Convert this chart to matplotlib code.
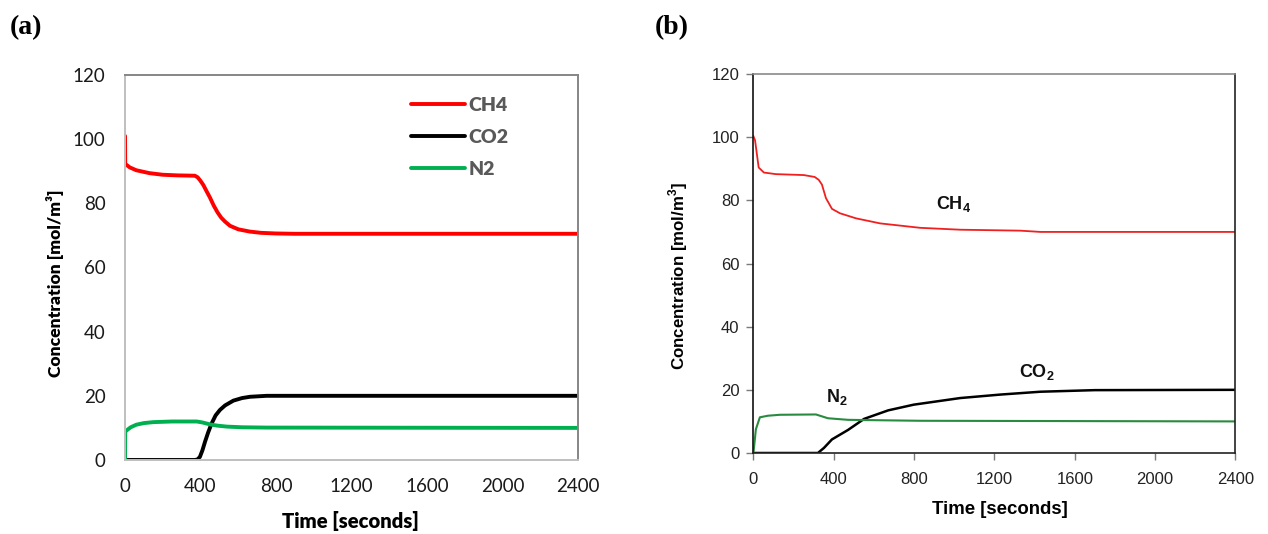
import matplotlib
matplotlib.use("Agg")
import matplotlib.pyplot as plt

# ---- simulated model (panel a) ----
t_ch4_a = [0, 1, 25, 60, 130, 200, 280, 370, 385, 400, 415, 430, 450, 470, 490, 510,
           530, 556, 600, 660, 720, 800, 900, 2400]
c_ch4_a = [101.0, 92.3, 91.2, 90.3, 89.4, 88.9, 88.7, 88.6, 88.1, 87.0, 85.7, 84.0,
           81.8, 79.3, 77.2, 75.5, 74.3, 73.0, 71.9, 71.2, 70.8, 70.6, 70.5, 70.5]

t_co2_a = [0, 370, 385, 397, 410, 424, 440, 459, 480, 503, 530, 574, 620, 662, 750, 2400]
c_co2_a = [0.0, 0.0, 0.2, 1.0, 3.0, 5.7, 8.5, 11.4, 13.9, 15.6, 17.0, 18.5, 19.3, 19.7,
           20.0, 20.0]

t_n2_a = [0, 1, 10, 30, 60, 100, 150, 250, 380, 410, 450, 490, 540, 620, 750, 2400]
c_n2_a = [0.0, 8.8, 9.3, 10.2, 11.0, 11.5, 11.8, 12.0, 12.0, 11.7, 11.1, 10.7, 10.4,
          10.2, 10.1, 10.0]

# ---- reference data (panel b) ----
t_ch4_b = [0, 8, 26, 52, 112, 251, 305, 325, 341, 361, 391, 431, 511, 631, 830, 1030,
           1329, 1429, 2400]
c_ch4_b = [100.3, 99.0, 90.4, 88.8, 88.3, 88.0, 87.4, 86.5, 85.0, 80.7, 77.3, 75.9,
           74.3, 72.7, 71.3, 70.7, 70.4, 70.0, 70.0]

t_co2_b = [0, 321, 351, 391, 471, 551, 671, 798, 1030, 1230, 1429, 1699, 2400]
c_co2_b = [0.0, 0.0, 1.6, 4.3, 7.3, 10.8, 13.5, 15.3, 17.4, 18.5, 19.4, 19.9, 20.0]

t_n2_b = [0, 12, 32, 72, 132, 311, 371, 471, 830, 2400]
c_n2_b = [0.0, 7.5, 11.3, 11.8, 12.1, 12.2, 11.0, 10.5, 10.2, 10.0]

x_ticks = [0, 400, 800, 1200, 1600, 2000, 2400]
y_ticks = [0, 20, 40, 60, 80, 100, 120]
species_a = ["CH4", "CO2", "N2"]
species_b = ["CH$_\\mathbf{4}$", "CO$_\\mathbf{2}$", "N$_\\mathbf{2}$"]
label_pos_b = [(998, 78.8), (1410, 25.7), (414, 17.8)]

plt.rcParams["mathtext.fontset"] = "custom"
plt.rcParams["mathtext.rm"] = "Liberation Sans"
plt.rcParams["mathtext.bf"] = "Liberation Sans:bold"

fig = plt.figure(figsize=(12.68, 5.34), dpi=100)

# ---------------- panel (a) ----------------
ax1 = fig.add_axes([0.0986, 0.1386, 0.3572, 0.7210])
ax1.plot(t_ch4_a, c_ch4_a, color="#ff0000", lw=2.8, label=species_a[0],
         solid_capstyle="round", solid_joinstyle="round")
ax1.plot(t_co2_a, c_co2_a, color="#000000", lw=2.8, label=species_a[1],
         solid_capstyle="round", solid_joinstyle="round")
ax1.plot(t_n2_a, c_n2_a, color="#00b050", lw=2.8, label=species_a[2],
         solid_capstyle="round", solid_joinstyle="round")
ax1.set_xlim(0, 2400)
ax1.set_ylim(0, 120)
ax1.set_xticks(x_ticks)
ax1.set_yticks(y_ticks)
ax1.tick_params(length=0, labelsize=13.5, colors="#1a1a1a")
ax1.tick_params(axis="y", pad=14)
ax1.tick_params(axis="x", pad=13)
for lab in ax1.get_xticklabels() + ax1.get_yticklabels():
    lab.set_family("Lato")
ax1.spines["left"].set_color("#bfbfbf")
ax1.spines["bottom"].set_color("#bfbfbf")
ax1.spines["top"].set_color("#868686")
ax1.spines["right"].set_color("#868686")
for s in ax1.spines.values():
    s.set_linewidth(1.4)
ax1.set_xlabel("Time [seconds]", family="Lato", weight="heavy", fontsize=14.6)
ax1.set_ylabel("Concentration [mol/m³]", family="Lato", weight="heavy", fontsize=12.6)
ax1.xaxis.set_label_coords(0.497, -0.158)
ax1.xaxis.label.set_va("center")
ax1.yaxis.set_label_coords(-0.155, 0.46)
ax1.yaxis.label.set_va("center")
leg = ax1.legend(loc="upper left", bbox_to_anchor=(0.631, 0.944), frameon=False,
                 borderpad=0, borderaxespad=0, handlelength=2.78, handletextpad=0.2,
                 labelspacing=0.78, prop={"family": "Lato", "weight": "heavy", "size": 14})
for txt in leg.get_texts():
    txt.set_color("#595959")

# ---------------- panel (b) ----------------
ax2 = fig.add_axes([0.5942, 0.1517, 0.3801, 0.7097])
ax2.plot(t_ch4_b, c_ch4_b, color="#f02020", lw=1.3)
ax2.plot(t_co2_b, c_co2_b, color="#000000", lw=1.8)
ax2.plot(t_n2_b, c_n2_b, color="#2a8a3e", lw=1.5)
ax2.set_xlim(0, 2400)
ax2.set_ylim(0, 120)
ax2.set_xticks(x_ticks)
ax2.set_yticks(y_ticks)
ax2.tick_params(direction="out", length=5, width=1.0, color="#7a7a7a",
                labelcolor="#222222", labelsize=12)
ax2.tick_params(axis="x", pad=9)
ax2.tick_params(axis="y", pad=5)
for lab in ax2.get_xticklabels() + ax2.get_yticklabels():
    lab.set_family("Liberation Sans")
ax2.spines["left"].set_color("#111111")
ax2.spines["bottom"].set_color("#222222")
ax2.spines["right"].set_color("#222222")
ax2.spines["top"].set_color("#8a8a8a")
for s in ax2.spines.values():
    s.set_linewidth(1.2)
for name, (tx, ty) in zip(species_b, label_pos_b):
    ax2.text(tx, ty, name, family="Liberation Sans", weight="bold", fontsize=13,
             ha="center", va="center", color="#111111")
ax2.set_xlabel("Time [seconds]", family="Liberation Sans", weight="bold", fontsize=13.4)
ax2.set_ylabel("Concentration [mol/m$^\\mathbf{3}$]", family="Liberation Sans",
               weight="bold", fontsize=12.2)
ax2.xaxis.set_label_coords(0.512, -0.148)
ax2.xaxis.label.set_va("center")
ax2.yaxis.set_label_coords(-0.157, 0.467)
ax2.yaxis.label.set_va("center")

# panel tags
fig.text(10 / 1268, 1 - 28 / 534, "(a)", family="Liberation Serif", weight="bold",
         fontsize=20, ha="left", va="center")
fig.text(655 / 1268, 1 - 28 / 534, "(b)", family="Liberation Serif", weight="bold",
         fontsize=20, ha="left", va="center")

fig.savefig("out.png", dpi=100)
